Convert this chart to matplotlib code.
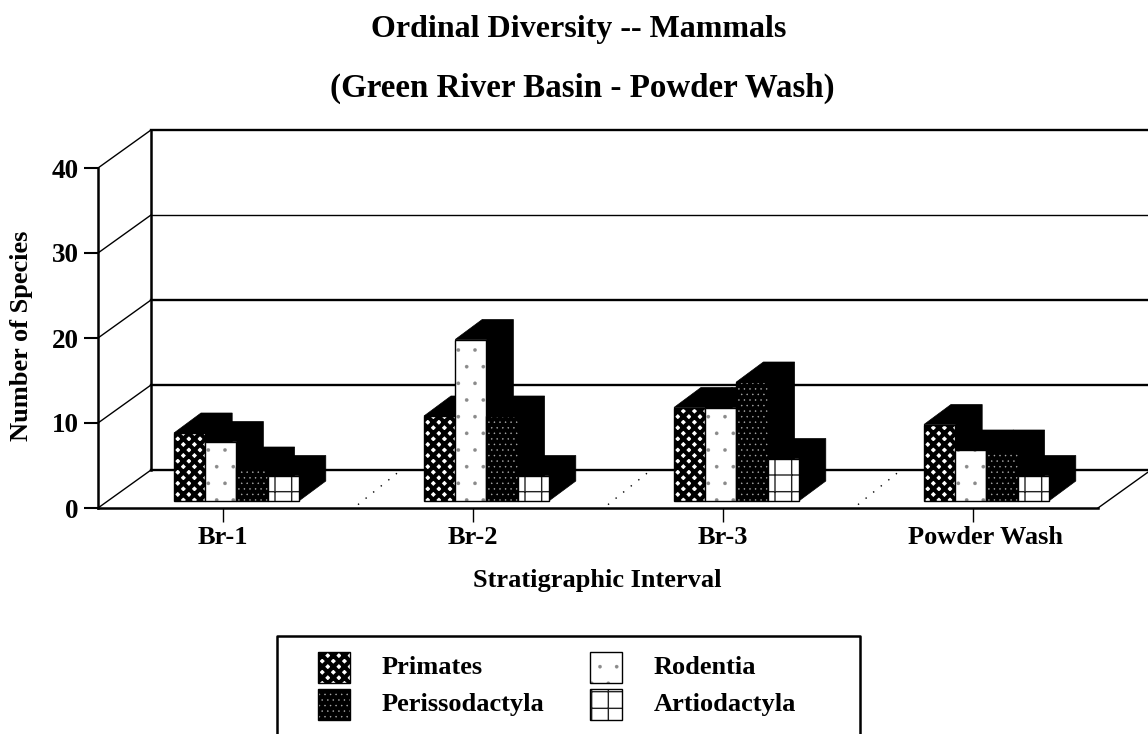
#!/usr/bin/env python3
import matplotlib
matplotlib.use("Agg")
import matplotlib.pyplot as plt
from matplotlib.patches import Polygon, Rectangle
from matplotlib.transforms import ScaledTranslation

W, H = 1148, 734

intervals = ["Br-1", "Br-2", "Br-3", "Powder Wash"]
orders = ["Primates", "Rodentia", "Perissodactyla", "Artiodactyla"]
primates = [8, 10, 11, 9]
rodentia = [7, 19, 11, 6]
perissodactyla = [4, 10, 14, 6]
artiodactyla = [3, 3, 5, 3]
series = [primates, rodentia, perissodactyla, artiodactyla]
y_ticks = [0, 10, 20, 30, 40]

styles = {
    "Primates": dict(facecolor="white", edgecolor="black", hatch="xxx"),
    "Rodentia": dict(facecolor="white", edgecolor="#8a8a8a", hatch="."),
    "Perissodactyla": dict(facecolor="black", edgecolor="#b0b0b0", hatch="..."),
    "Artiodactyla": dict(facecolor="white", edgecolor="#222222", hatch="+"),
}
hatch_widths = {"Primates": 3.0, "Rodentia": 0.2, "Perissodactyla": 0.3, "Artiodactyla": 1.0}

plt.rcParams["font.family"] = ["Liberation Serif", "DejaVu Serif"]
plt.rcParams["font.weight"] = "bold"

fig = plt.figure(figsize=(W / 100, H / 100), dpi=100)

# front plane of the fake 3d box, pixel rectangle of the axes
x0, x1, y_base, y_top = 98, 1098, 508, 168
ax = fig.add_axes([x0 / W, 1 - y_base / H, (x1 - x0) / W, (y_base - y_top) / H])
ax.set_xlim(0, 4)
ax.set_ylim(0, 40)
ax.patch.set_alpha(0)

# pixel -> data scale for the oblique offsets
px_x = 4 / (x1 - x0)
px_y = 40 / (y_base - y_top)
wall_dx, wall_dy = 53 * px_x, 38 * px_y
bar_dx, bar_dy = 27 * px_x, 20 * px_y
off_dx, off_dy = 13.4 * px_x, 7 * px_y
bar_w = 31.2 * px_x

# walls
for v in y_ticks:
    ax.plot([0, wall_dx], [v, v + wall_dy], color="black", lw=1, clip_on=False, zorder=1)
    lw = 1.0 if v == 30 else 1.7
    ax.plot([wall_dx, 4 + wall_dx], [v + wall_dy, v + wall_dy], color="black", lw=lw,
            clip_on=False, zorder=1)
ax.plot([wall_dx, wall_dx], [wall_dy, 40 + wall_dy], color="black", lw=1.8, clip_on=False, zorder=1)
ax.plot([4, 4 + wall_dx], [0, wall_dy], color="black", lw=1, clip_on=False, zorder=1)
for i in range(1, 4):
    ax.plot([i + 0.04, i + wall_dx], [0.4, wall_dy], color="black", lw=1, ls=(0, (1, 6)),
            clip_on=False, zorder=1)

# bars, back to front so the side of each one is covered by the next
for i in range(4):
    left = i + 0.5 - 2 * bar_w + off_dx
    for j, name in enumerate(orders):
        val = series[j][i]
        xl = left + j * bar_w
        xr = xl + bar_w
        yb = off_dy
        yt = off_dy + val
        side = [(xl, yt), (xl + bar_dx, yt + bar_dy), (xr + bar_dx, yt + bar_dy),
                (xr + bar_dx, yb + bar_dy), (xr, yb), (xr, yt)]
        ax.add_patch(Polygon(side, closed=True, facecolor="black", edgecolor="black",
                             lw=0.5, clip_on=False, zorder=2 + j))
        bars = ax.bar(xl, val, width=bar_w, bottom=yb, align="edge", lw=0, clip_on=False,
                      zorder=2 + j + 0.5, **styles[name])
        for b in bars:
            b.set_hatch_linewidth(hatch_widths[name])
        ax.add_patch(Rectangle((xl, yb), bar_w, val, fill=False, edgecolor="black", lw=1,
                               clip_on=False, zorder=2 + j + 0.6))

for side in ["top", "right"]:
    ax.spines[side].set_visible(False)
for side in ["left", "bottom"]:
    ax.spines[side].set_linewidth(1.8)
    ax.spines[side].set_zorder(10)

ax.set_xticks([i + 0.5 for i in range(4)])
ax.set_xticklabels(intervals, fontsize=19)
ax.set_yticks(y_ticks)
ax.set_yticklabels([str(v) for v in y_ticks], fontsize=19.5)
ax.tick_params(axis="x", length=10, width=1, pad=3)
ax.tick_params(axis="y", length=10, width=1.5, pad=4)

# last label sits right of its tick in the original
last = ax.get_xticklabels()[-1]
last.set_transform(last.get_transform() + ScaledTranslation(0.13, 0, fig.dpi_scale_trans))

# everything else is placed in pixels on an overlay
pix = fig.add_axes([0, 0, 1, 1])
pix.set_xlim(0, W)
pix.set_ylim(H, 0)
pix.axis("off")
pix.patch.set_alpha(0)

pix.text(579, 29, "Ordinal Diversity -- Mammals", ha="center", va="center", fontsize=23)
pix.text(582, 88, "(Green River Basin - Powder Wash)", ha="center", va="center", fontsize=23.8)
pix.text(22, 336, "Number of Species", rotation=90, ha="center", va="center", fontsize=19)
pix.text(597, 580, "Stratigraphic Interval", ha="center", va="center", fontsize=19)

# legend box runs off the bottom of the picture
pix.plot([277, 277, 860, 860], [734, 636, 636, 734], color="black", lw=1.8, clip_on=False)
legend_pos = {
    "Primates": (318, 652, 382),
    "Rodentia": (590, 652, 654),
    "Perissodactyla": (318, 689, 382),
    "Artiodactyla": (590, 689, 654),
}
for name, (sx, sy, tx) in legend_pos.items():
    sw = Rectangle((sx, sy), 32, 31, lw=0, **styles[name])
    sw.set_hatch_linewidth(hatch_widths[name])
    pix.add_patch(sw)
    pix.add_patch(Rectangle((sx, sy), 32, 31, fill=False, edgecolor="black", lw=1))
    pix.text(tx, sy + 15, name, ha="left", va="center", fontsize=19)

fig.savefig("out.png", dpi=100)
